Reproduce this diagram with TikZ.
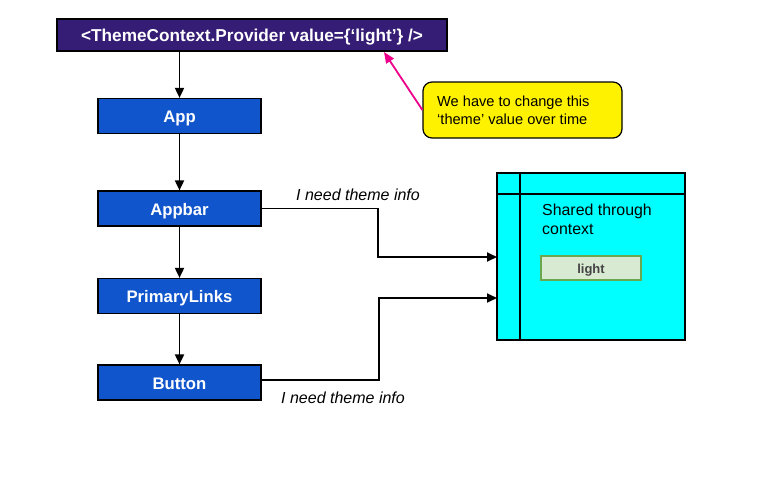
\documentclass[tikz,border=0pt]{standalone}
\usepackage{fontspec}
\setmainfont{Liberation Sans}
\usetikzlibrary{arrows.meta}
\definecolor{provfill}{HTML}{351C75}
\definecolor{compfill}{HTML}{1155CC}
\definecolor{ctxfill}{HTML}{00FFFF}
\definecolor{lightfill}{HTML}{D9EAD3}
\definecolor{lightdraw}{HTML}{6AA84F}
\definecolor{lighttext}{HTML}{434343}
\begin{document}
\begin{tikzpicture}[x=1pt,y=-1pt,
  comp/.style={draw=black,line width=1.2pt,fill=compfill,text=white,font=\fontsize{16.7}{20}\selectfont\bfseries,minimum width=163pt,minimum height=35pt,inner sep=0pt,text height=16pt,text depth=3pt},
  flow/.style={draw=black,line width=1.8pt,-{Triangle[length=10pt,width=9pt]}},
  lbl/.style={font=\fontsize{16}{19}\selectfont\itshape}]
\useasboundingbox (0,0) rectangle (783,493);
\fill[white] (0,0) rectangle (783,493);
% provider
\node[draw=black,line width=1.2pt,fill=provfill,text=white,font=\fontsize{17.2}{20}\selectfont\bfseries,minimum width=390pt,minimum height=32pt,inner sep=0pt,text height=16.5pt,text depth=3pt] (prov) at (252,35) {<ThemeContext.Provider value=\{‘light’\} />};
\node[comp] (app) at (179.5,116) {App};
\node[comp] (appbar) at (179.5,208.5) {Appbar};
\node[comp] (links) at (179.5,296) {PrimaryLinks};
\node[comp] (button) at (179.5,382.5) {Button};
\draw[flow] (prov.south -| app.north) -- (app.north);
\draw[flow] (app) -- (appbar);
\draw[flow] (appbar) -- (links);
\draw[flow] (links) -- (button);
% context box
\node[draw=black,line width=1.2pt,fill=ctxfill,minimum width=188pt,minimum height=167pt,inner sep=0pt] (ctx) at (591,256.5) {};
\draw[line width=1.2pt] (497,194) -- (685,194);
\draw[line width=1.2pt] (520,173) -- (520,340);
\node[anchor=north west,align=left,font=\fontsize{15.9}{19}\selectfont,inner sep=0pt] (shared) at (542,204) {Shared through\\context};
\node[draw=lightdraw,line width=1.5pt,fill=lightfill,text=lighttext,font=\fontsize{13}{15}\selectfont\bfseries,minimum width=100pt,minimum height=24pt,inner sep=0pt,text height=12pt,text depth=2pt] (light) at (591,268) {light};
\coordinate (in1) at (497,257);
\coordinate (in2) at (497,298);
\draw[flow] (appbar.east) -- (378,208.5) |- (in1);
\draw[flow] ([yshift=2.5pt]button.east) -- (379,380) |- (in2);
\node[lbl] (l1) at (358,195) {I need theme info};
\node[lbl] (l2) at (343,398) {I need theme info};
% callout
\node[draw=black,line width=1.2pt,fill=yellow,rounded corners=9pt,minimum width=199pt,minimum height=56pt,inner sep=0pt] (note) at (522.5,110) {};
\node[anchor=north west,align=left,font=\fontsize{14.6}{18}\selectfont,inner sep=0pt] (notetext) at (437,96) {We have to change this\\‘theme’ value over time};
\coordinate (tip) at (384,52);
\draw[draw=magenta,line width=1.8pt,-{Triangle[length=11pt,width=9pt]}] (note.west) -- (tip);
\end{tikzpicture}
\end{document}
